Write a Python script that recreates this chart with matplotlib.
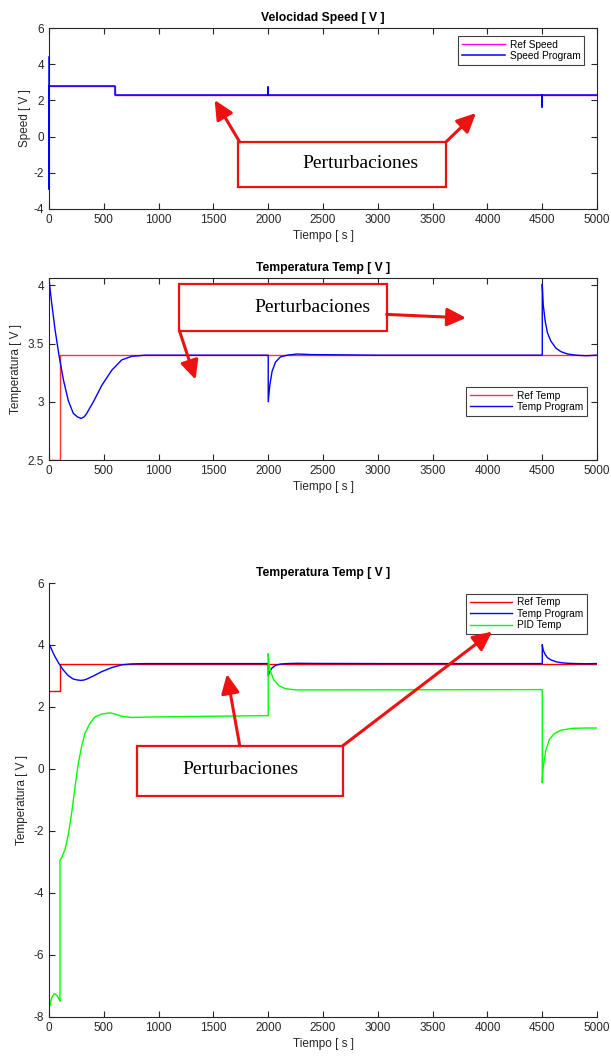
import matplotlib
matplotlib.use("Agg")
import matplotlib.pyplot as plt
from matplotlib.patches import Rectangle

# ---------------- data ----------------
speed_ref_t = [0, 600, 600, 5000]
speed_ref_v = [2.8, 2.8, 2.3, 2.3]
speed_t = [0, 0, 0, 600, 600, 2000, 2000, 2000, 4500, 4500, 4500, 5000]
speed_v = [4.42, -2.9, 2.8, 2.8, 2.3, 2.3, 2.76, 2.3, 2.3, 1.65, 2.3, 2.3]

ref_temp_t = [0, 100, 100, 5000]
ref_temp_v = [2.5, 2.5, 3.4, 3.4]

temp_t = [0, 24, 55, 91, 131, 176, 222, 260, 292, 320, 344, 405, 481, 572, 664,
          755, 877, 1500, 2000, 2000, 2014, 2035, 2066, 2111, 2172, 2263, 2400,
          3000, 4500, 4500, 4509, 4527, 4548, 4579, 4625, 4671, 4731, 4808, 4899, 5000]
temp_v = [4.05, 3.85, 3.62, 3.40, 3.19, 3.01, 2.90, 2.87, 2.857, 2.87, 2.90, 3.00,
          3.14, 3.27, 3.36, 3.39, 3.40, 3.40, 3.40, 3.00, 3.14, 3.26, 3.34, 3.385,
          3.40, 3.41, 3.405, 3.40, 3.40, 4.01, 3.83, 3.69, 3.59, 3.52, 3.46, 3.43,
          3.41, 3.40, 3.395, 3.40]

pid_t = [0, 24, 48, 73, 97, 100, 100, 115, 146, 176, 207, 238, 268, 298, 329, 375,
         420, 481, 558, 603, 664, 755, 999, 1500, 2000, 2000, 2005, 2020, 2050, 2096,
         2157, 2249, 2500, 4500, 4500, 4509, 4534, 4564, 4610, 4671, 4777, 4899, 5000]
pid_v = [-7.76, -7.39, -7.25, -7.31, -7.47, -7.5, -2.95, -2.87, -2.60, -2.12, -1.42,
         -0.56, 0.19, 0.73, 1.16, 1.48, 1.68, 1.77, 1.81, 1.77, 1.70, 1.66, 1.68, 1.70,
         1.72, 3.72, 3.42, 3.15, 2.88, 2.69, 2.59, 2.55, 2.55, 2.56, -0.45, 0.08, 0.62,
         0.95, 1.14, 1.25, 1.31, 1.32, 1.32]

x_ticks = [0, 500, 1000, 1500, 2000, 2500, 3000, 3500, 4000, 4500, 5000]

# ---------------- style ----------------
plt.rcParams['font.family'] = ['Liberation Sans', 'DejaVu Sans']
plt.rcParams['font.size'] = 8.5
plt.rcParams['axes.unicode_minus'] = False
AX_COL = '#262626'
plt.rcParams['axes.edgecolor'] = AX_COL
plt.rcParams['xtick.color'] = AX_COL
plt.rcParams['ytick.color'] = AX_COL
plt.rcParams['axes.labelcolor'] = AX_COL
plt.rcParams['axes.linewidth'] = 0.8

fig = plt.figure(figsize=(6.11, 10.57), dpi=100)

def style(ax, box=True):
    ax.set_xlim(0, 5000)
    ax.set_xticks(x_ticks)
    ax.tick_params(direction='in', length=4, width=0.8, labelsize=8.5,
                   top=box, right=box)
    if not box:
        ax.spines['top'].set_visible(False)
        ax.spines['right'].set_visible(False)
    ax.set_xlabel('Tiempo [ s ]', fontsize=8.5, labelpad=3)

def perturb(ax, box_xy, box_wh, text_xy, arrows):
    ax.add_patch(Rectangle(box_xy, box_wh[0], box_wh[1], facecolor='white',
                           edgecolor='#ee1111', lw=1.6, zorder=5, clip_on=False))
    ax.text(text_xy[0], text_xy[1], 'Perturbaciones', family='Liberation Serif',
            fontsize=14, ha='center', va='center', color='black', zorder=6)
    for (sx, sy), (ex, ey) in arrows:
        ax.annotate('', xy=(ex, ey), xytext=(sx, sy),
                    arrowprops=dict(arrowstyle='-|>,head_length=1.15,head_width=0.55',
                                    mutation_scale=10, color='#ee1111', lw=2.2,
                                    shrinkA=0, shrinkB=0),
                    zorder=6)

def legend(ax, anchor):
    leg = ax.legend(loc='upper right', bbox_to_anchor=anchor, borderaxespad=0,
                    fontsize=7.3, frameon=True, fancybox=False, framealpha=1,
                    edgecolor='#404040', handlelength=4.2, handletextpad=0.5,
                    labelspacing=0.15, borderpad=0.35)
    leg.get_frame().set_linewidth(0.8)

# ---------------- top: speed ----------------
ax1 = fig.add_axes([0.0802, 0.8023, 0.8970, 0.1712])
ax1.plot(speed_ref_t, speed_ref_v, color=(1, 0, 1), lw=1, label='Ref Speed')
ax1.plot(speed_t, speed_v, color=(0, 0, 1), lw=1.1, label='Speed Program',
         zorder=3, clip_on=False)
ax1.set_ylim(-4, 6)
ax1.set_yticks([-4, -2, 0, 2, 4, 6])
style(ax1)
ax1.set_ylabel('Speed [ V ]', labelpad=2)
ax1.set_title('Velocidad Speed [ V ]', fontsize=8.7, fontweight='bold', pad=5)
legend(ax1, (0.976, 0.956))
perturb(ax1, (1721, -2.78), (1900, 2.48), (2840, -1.5),
        [((1740, -0.3), (1511, 2.02)), ((3621, -0.3), (3895, 1.3))])

# ---------------- middle: temperature ----------------
ax2 = fig.add_axes([0.0802, 0.5648, 0.8970, 0.1719])
ax2.plot(ref_temp_t, ref_temp_v, color=(1, 0.2, 0.2), lw=1, label='Ref Temp')
ax2.plot(temp_t, temp_v, color=(0, 0, 1), lw=1, label='Temp Program')
ax2.set_ylim(2.5, 4.06)
ax2.set_yticks([2.5, 3, 3.5, 4])
ax2.set_yticklabels(['2.5', '3', '3.5', '4'])
style(ax2)
ax2.set_ylabel('Temperatura [ V ]', labelpad=4)
ax2.set_title('Temperatura Temp [ V ]', fontsize=8.7, fontweight='bold', pad=5)
legend(ax2, (0.982, 0.402))
perturb(ax2, (1190, 3.61), (1890, 0.405), (2407, 3.81),
        [((1190, 3.61), (1337, 3.19)), ((3080, 3.75), (3805, 3.72))])

# ---------------- bottom: temperature + PID ----------------
ax3 = fig.add_axes([0.0802, 0.0381, 0.8970, 0.4103])
ax3.plot(ref_temp_t, ref_temp_v, color=(1, 0, 0), lw=1, label='Ref Temp')
ax3.plot(temp_t, temp_v, color=(0, 0, 1), lw=1, label='Temp Program')
ax3.plot(pid_t, pid_v, color=(0, 1, 0), lw=1, label='PID Temp')
ax3.set_ylim(-8, 6)
ax3.set_yticks([-8, -6, -4, -2, 0, 2, 4, 6])
style(ax3, box=False)
ax3.set_ylabel('Temperatura [ V ]', labelpad=4)
ax3.set_title('Temperatura Temp [ V ]', fontsize=8.7, fontweight='bold', pad=5)
legend(ax3, (0.982, 0.975))
perturb(ax3, (806, -0.86), (1875, 1.61), (1749, -0.02),
        [((1740, 0.75), (1623, 3.06)), ((2681, 0.75), (4043, 4.43))])

fig.savefig('out.png', dpi=100)
